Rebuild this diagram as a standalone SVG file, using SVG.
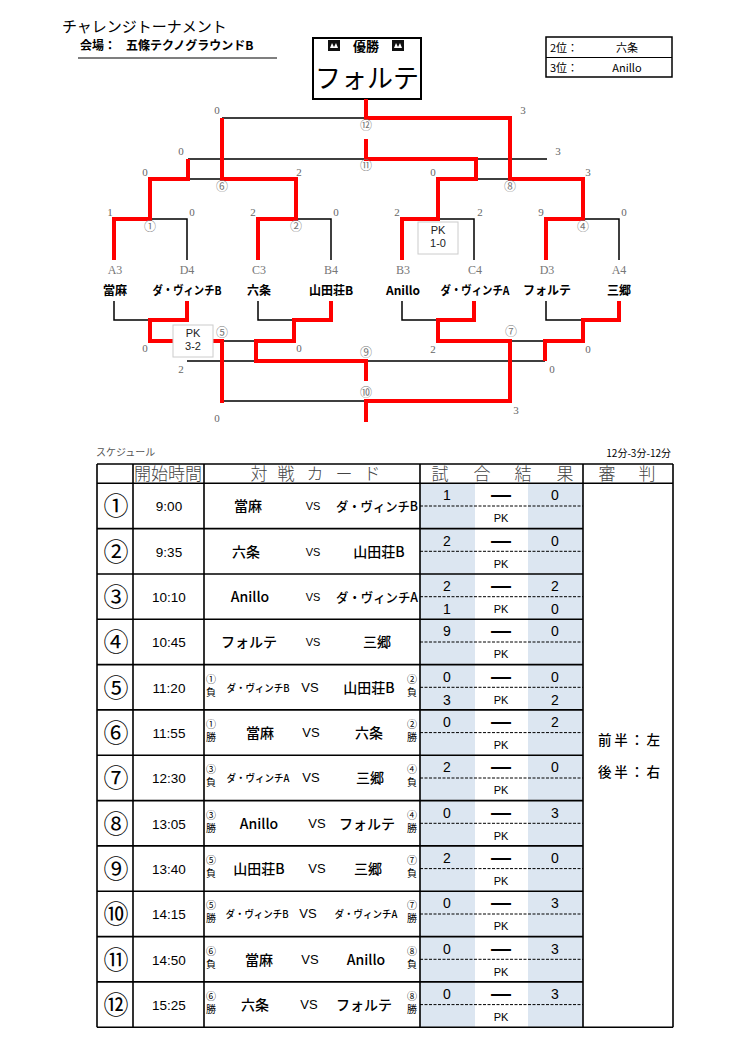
<svg xmlns="http://www.w3.org/2000/svg" width="743" height="1047" viewBox="0 0 743 1047">
<style>
text{font-family:"Noto Sans CJK JP","Liberation Sans",sans-serif}
.k{stroke:#000;stroke-width:1.5;fill:none}
.r{stroke:#ff0000;stroke-width:4;fill:none;stroke-linejoin:miter;stroke-linecap:butt}
.sc{font-family:"Liberation Serif",serif;font-size:11px;fill:#666;text-anchor:middle}
.cm{font-size:12px;fill:#777;text-anchor:middle}
.code{font-family:"Liberation Serif",serif;font-size:12px;fill:#777;text-anchor:middle}
.tn{font-size:12px;font-weight:700;fill:#000;text-anchor:middle}
.pkb{fill:#fff;stroke:#ccc;stroke-width:1}
.pkt{font-family:"Liberation Sans",sans-serif;font-size:11px;fill:#222;text-anchor:middle}
.g{stroke:#000;stroke-width:1.6;fill:none}
.d{stroke:#000;stroke-width:1;stroke-dasharray:3 1.5;fill:none}
.blue{fill:#dce6f1}
.hd{font-size:17px;fill:#444;font-weight:300;text-anchor:middle}
.no{font-size:25px;text-anchor:middle;fill:#000}
.tm{font-family:"Liberation Sans",sans-serif;font-size:13.5px;text-anchor:middle}
.nm{font-size:14px;font-weight:500;text-anchor:middle}
.nml{font-size:13px;font-weight:500;text-anchor:start}
.nms{font-size:10px;font-weight:500;text-anchor:middle}
.vs{font-family:"Liberation Sans",sans-serif;font-size:13px;text-anchor:middle}
.vss{font-family:"Liberation Sans",sans-serif;font-size:11px;text-anchor:middle}
.sm{font-size:10px;text-anchor:middle}
.rs{font-family:"Liberation Sans",sans-serif;font-size:14px;text-anchor:middle}
.ds{font-family:"Liberation Sans",sans-serif;font-size:20px;font-weight:700;text-anchor:middle}
.pk{font-family:"Liberation Sans",sans-serif;font-size:11px;text-anchor:middle}
</style>

<g id="title">
<text x="62" y="32" font-size="15">チャレンジトーナメント</text>
<text x="80" y="50" font-size="12" font-weight="700">会場：</text>
<text x="126" y="50" font-size="12" font-weight="700">五條テクノグラウンドB</text>
<line x1="78" y1="58" x2="277" y2="58" stroke="#000" stroke-width="1.2"/>
</g>

<g id="winner">
<rect x="313" y="38" width="108" height="61" fill="#fff" stroke="#000" stroke-width="2"/>
<rect x="328" y="40" width="12" height="11" fill="#111"/>
<path d="M330,48 L332,43 L334,47 L336,43 L338,48 Z" fill="#fff"/>
<rect x="392" y="40" width="12" height="11" fill="#111"/>
<path d="M394,48 L396,43 L398,47 L400,43 L402,48 Z" fill="#fff"/>
<text x="366" y="51" font-size="13" font-weight="700" text-anchor="middle">優勝</text>
<text x="367" y="88" font-size="26" text-anchor="middle">フォルテ</text>
</g>

<g id="ranks">
<rect x="546" y="37" width="126" height="40" fill="#fff" stroke="#000" stroke-width="1.5"/>
<line x1="546" y1="57.5" x2="672" y2="57.5" stroke="#000" stroke-width="1.2"/>
<text x="550" y="52" font-size="11">2位：</text>
<text x="627" y="52" font-size="11" text-anchor="middle">六条</text>
<text x="550" y="72" font-size="11">3位：</text>
<text x="627" y="72" font-size="11" text-anchor="middle" font-family="Liberation Sans,sans-serif">Anillo</text>
</g>

<g id="connectors">
<path class="k" d="M150,219H187V260M296,219H331V260M438,219H474V260M583,219H619V260M188,179H222M476,179H510M188,159H366M476,159H547M222,118H366"/>
<path class="k" d="M114,301V320H150M258,301V320H294M402,301V320H438M546,301V320H583M222,341H256M510,341H545M187,361H256M366,361H545M222,401H366"/>
<path class="r" d="M114,260V219H150V179H188V159"/>
<path class="r" d="M258,260V219H296V179H222V118"/>
<path class="r" d="M402,260V219H438V179H476V159H366V139"/>
<path class="r" d="M546,260V219H583V179H510V118H366V99"/>
<path class="r" d="M187,301V320H150V341H222V403"/>
<path class="r" d="M331,301V320H294V341H256V361H366V381"/>
<path class="r" d="M474,301V320H438V341H510V401H366V422"/>
<path class="r" d="M619,301V320H583V341H545V361"/>
</g>

<g id="pk-boxes">
<rect class="pkb" x="418" y="222" width="40" height="32"/>
<text class="pkt" x="438" y="234">PK</text>
<text class="pkt" x="438" y="247">1-0</text>
<rect class="pkb" x="173" y="325" width="40" height="32"/>
<text class="pkt" x="193" y="337">PK</text>
<text class="pkt" x="193" y="350">3-2</text>
</g>

<g id="match-marks">
<text class="cm" x="150" y="231">①</text>
<text class="cm" x="296" y="231">②</text>
<text class="cm" x="583" y="231">④</text>
<text class="cm" x="222" y="191">⑥</text>
<text class="cm" x="510" y="191">⑧</text>
<text class="cm" x="366" y="170">⑪</text>
<text class="cm" x="366" y="130">⑫</text>
<text class="cm" x="222" y="337">⑤</text>
<text class="cm" x="511" y="336">⑦</text>
<text class="cm" x="366" y="357">⑨</text>
<text class="cm" x="366" y="397">⑩</text>
</g>

<g id="scores">
<text class="sc" x="217" y="114">0</text>
<text class="sc" x="523" y="114">3</text>
<text class="sc" x="181" y="155">0</text>
<text class="sc" x="558" y="155">3</text>
<text class="sc" x="145" y="176">0</text>
<text class="sc" x="299" y="176">2</text>
<text class="sc" x="433" y="176">0</text>
<text class="sc" x="588" y="176">3</text>
<text class="sc" x="110" y="216">1</text>
<text class="sc" x="192" y="216">0</text>
<text class="sc" x="253" y="216">2</text>
<text class="sc" x="336" y="216">0</text>
<text class="sc" x="397" y="216">2</text>
<text class="sc" x="480" y="216">2</text>
<text class="sc" x="541" y="216">9</text>
<text class="sc" x="624" y="216">0</text>
<text class="sc" x="145" y="352">0</text>
<text class="sc" x="299" y="352">0</text>
<text class="sc" x="433" y="353">2</text>
<text class="sc" x="588" y="353">0</text>
<text class="sc" x="181" y="373">2</text>
<text class="sc" x="552" y="373">0</text>
<text class="sc" x="217" y="422">0</text>
<text class="sc" x="516" y="414">3</text>
</g>

<g id="team-A3"><text class="code" x="115" y="274">A3</text><text class="tn" x="115" y="295">當麻</text></g>
<g id="team-D4"><text class="code" x="187" y="274">D4</text><text class="tn" x="187" y="295" font-size="11" textLength="69" lengthAdjust="spacingAndGlyphs">ダ・ヴィンチB</text></g>
<g id="team-C3"><text class="code" x="259" y="274">C3</text><text class="tn" x="259" y="295">六条</text></g>
<g id="team-B4"><text class="code" x="331" y="274">B4</text><text class="tn" x="331" y="295">山田荘B</text></g>
<g id="team-B3"><text class="code" x="403" y="274">B3</text><text class="tn" x="403" y="295" font-family="Liberation Sans,sans-serif" font-size="13">Anillo</text></g>
<g id="team-C4"><text class="code" x="475" y="274">C4</text><text class="tn" x="475" y="295" font-size="11" textLength="69" lengthAdjust="spacingAndGlyphs">ダ・ヴィンチA</text></g>
<g id="team-D3"><text class="code" x="547" y="274">D3</text><text class="tn" x="547" y="295">フォルテ</text></g>
<g id="team-A4"><text class="code" x="619" y="274">A4</text><text class="tn" x="619" y="295">三郷</text></g>

<g id="schedule-labels">
<text x="96" y="456" font-size="10" fill="#555">スケジュール</text>
<text x="671" y="457" font-size="10" text-anchor="end">12分-3分-12分</text>
</g>

<g id="table-grid">
<rect class="blue" x="420" y="483.3" width="55" height="543.9"/>
<rect class="blue" x="528" y="483.3" width="55" height="543.9"/>
<path class="g" d="M97,464V1027.2M133,464V1027.2M204,464V1027.2M420,464V1027.2M583,464V1027.2M673,464V1027.2M97,464H673M97,483.3H673M97,1027.2H673"/>
<path class="g" d="M97,528.6H583M97,574H583M97,619.3H583M97,664.6H583M97,709.9H583M97,755.3H583M97,800.6H583M97,845.9H583M97,891.3H583M97,936.6H583M97,981.9H583"/>
<path class="d" d="M420,506H583M420,551.3H583M420,596.7H583M420,642H583M420,687.3H583M420,732.6H583M420,778H583M420,823.3H583M420,868.6H583M420,914H583M420,959.3H583M420,1004.6H583"/>
</g>

<g id="table-header">
<text class="hd" x="168" y="480" textLength="68" lengthAdjust="spacingAndGlyphs">開始時間</text>
<text class="hd" x="259" y="480">対</text>
<text class="hd" x="286" y="480">戦</text>
<text class="hd" x="315" y="480">カ</text>
<text class="hd" x="344" y="480">ー</text>
<text class="hd" x="372" y="480">ド</text>
<text class="hd" x="440" y="480">試</text>
<text class="hd" x="482" y="480">合</text>
<text class="hd" x="523" y="480">結</text>
<text class="hd" x="565" y="480">果</text>
<text class="hd" x="607" y="480">審</text>
<text class="hd" x="647" y="480">判</text>
</g>

<g id="row1" transform="translate(0,483.3)">
<text class="no" x="116" y="32">①</text><text class="tm" x="169" y="28">9:00</text>
<text class="nm" x="248" y="28">當麻</text><text class="vss" x="313" y="27">VS</text><text class="nml" x="336" y="28" textLength="82" lengthAdjust="spacingAndGlyphs">ダ・ヴィンチB</text>
<text class="rs" x="447" y="17">1</text><text class="ds" x="501" y="18">—</text><text class="rs" x="555" y="17">0</text>
<text class="pk" x="501" y="39">PK</text>
</g>
<g id="row2" transform="translate(0,528.6)">
<text class="no" x="116" y="32">②</text><text class="tm" x="169" y="28">9:35</text>
<text class="nm" x="246" y="28">六条</text><text class="vss" x="313" y="27">VS</text><text class="nm" x="379" y="28">山田荘B</text>
<text class="rs" x="447" y="17">2</text><text class="ds" x="501" y="18">—</text><text class="rs" x="555" y="17">0</text>
<text class="pk" x="501" y="39">PK</text>
</g>
<g id="row3" transform="translate(0,574)">
<text class="no" x="116" y="32">③</text><text class="tm" x="169" y="28">10:10</text>
<text class="nm" x="250" y="28" font-family="Liberation Sans,sans-serif">Anillo</text><text class="vss" x="313" y="27">VS</text><text class="nml" x="336" y="28" textLength="82" lengthAdjust="spacingAndGlyphs">ダ・ヴィンチA</text>
<text class="rs" x="447" y="17">2</text><text class="ds" x="501" y="18">—</text><text class="rs" x="555" y="17">2</text>
<text class="rs" x="447" y="40">1</text><text class="pk" x="501" y="39">PK</text><text class="rs" x="555" y="40">0</text>
</g>
<g id="row4" transform="translate(0,619.3)">
<text class="no" x="116" y="32">④</text><text class="tm" x="169" y="28">10:45</text>
<text class="nm" x="249" y="28">フォルテ</text><text class="vss" x="313" y="27">VS</text><text class="nm" x="377" y="28">三郷</text>
<text class="rs" x="447" y="17">9</text><text class="ds" x="501" y="18">—</text><text class="rs" x="555" y="17">0</text>
<text class="pk" x="501" y="39">PK</text>
</g>
<g id="row5" transform="translate(0,664.6)">
<text class="no" x="116" y="32">⑤</text><text class="tm" x="169" y="28">11:20</text>
<text class="sm" x="211" y="18">①</text><text class="sm" x="211" y="31">負</text>
<text class="nms" x="258" y="27" textLength="63" lengthAdjust="spacingAndGlyphs">ダ・ヴィンチB</text><text class="vs" x="310" y="27">VS</text><text class="nm" x="369" y="28">山田荘B</text>
<text class="sm" x="412" y="18">②</text><text class="sm" x="412" y="31">負</text>
<text class="rs" x="447" y="17">0</text><text class="ds" x="501" y="18">—</text><text class="rs" x="555" y="17">0</text>
<text class="rs" x="447" y="40">3</text><text class="pk" x="501" y="39">PK</text><text class="rs" x="555" y="40">2</text>
</g>
<g id="row6" transform="translate(0,709.9)">
<text class="no" x="116" y="32">⑥</text><text class="tm" x="169" y="28">11:55</text>
<text class="sm" x="211" y="18">①</text><text class="sm" x="211" y="31">勝</text>
<text class="nm" x="260" y="28">當麻</text><text class="vs" x="311" y="27">VS</text><text class="nm" x="369" y="28">六条</text>
<text class="sm" x="412" y="18">②</text><text class="sm" x="412" y="31">勝</text>
<text class="rs" x="447" y="17">0</text><text class="ds" x="501" y="18">—</text><text class="rs" x="555" y="17">2</text>
<text class="pk" x="501" y="39">PK</text>
</g>
<g id="row7" transform="translate(0,755.3)">
<text class="no" x="116" y="32">⑦</text><text class="tm" x="169" y="28">12:30</text>
<text class="sm" x="211" y="18">③</text><text class="sm" x="211" y="31">負</text>
<text class="nms" x="258" y="27" textLength="63" lengthAdjust="spacingAndGlyphs">ダ・ヴィンチA</text><text class="vs" x="311" y="27">VS</text><text class="nm" x="370" y="28">三郷</text>
<text class="sm" x="412" y="18">④</text><text class="sm" x="412" y="31">負</text>
<text class="rs" x="447" y="17">2</text><text class="ds" x="501" y="18">—</text><text class="rs" x="555" y="17">0</text>
<text class="pk" x="501" y="39">PK</text>
</g>
<g id="row8" transform="translate(0,800.6)">
<text class="no" x="116" y="32">⑧</text><text class="tm" x="169" y="28">13:05</text>
<text class="sm" x="211" y="18">③</text><text class="sm" x="211" y="31">勝</text>
<text class="nm" x="259" y="28" font-family="Liberation Sans,sans-serif">Anillo</text><text class="vs" x="317" y="27">VS</text><text class="nm" x="367" y="28">フォルテ</text>
<text class="sm" x="412" y="18">④</text><text class="sm" x="412" y="31">勝</text>
<text class="rs" x="447" y="17">0</text><text class="ds" x="501" y="18">—</text><text class="rs" x="555" y="17">3</text>
<text class="pk" x="501" y="39">PK</text>
</g>
<g id="row9" transform="translate(0,845.9)">
<text class="no" x="116" y="32">⑨</text><text class="tm" x="169" y="28">13:40</text>
<text class="sm" x="211" y="18">⑤</text><text class="sm" x="211" y="31">負</text>
<text class="nm" x="259" y="28">山田荘B</text><text class="vs" x="317" y="27">VS</text><text class="nm" x="368" y="28">三郷</text>
<text class="sm" x="412" y="18">⑦</text><text class="sm" x="412" y="31">負</text>
<text class="rs" x="447" y="17">2</text><text class="ds" x="501" y="18">—</text><text class="rs" x="555" y="17">0</text>
<text class="pk" x="501" y="39">PK</text>
</g>
<g id="row10" transform="translate(0,891.3)">
<text class="no" x="116" y="32">⑩</text><text class="tm" x="169" y="28">14:15</text>
<text class="sm" x="211" y="18">⑤</text><text class="sm" x="211" y="31">勝</text>
<text class="nms" x="257" y="27" textLength="63" lengthAdjust="spacingAndGlyphs">ダ・ヴィンチB</text><text class="vs" x="308" y="27">VS</text><text class="nms" x="366" y="27" textLength="63" lengthAdjust="spacingAndGlyphs">ダ・ヴィンチA</text>
<text class="sm" x="412" y="18">⑦</text><text class="sm" x="412" y="31">勝</text>
<text class="rs" x="447" y="17">0</text><text class="ds" x="501" y="18">—</text><text class="rs" x="555" y="17">3</text>
<text class="pk" x="501" y="39">PK</text>
</g>
<g id="row11" transform="translate(0,936.6)">
<text class="no" x="116" y="32">⑪</text><text class="tm" x="169" y="28">14:50</text>
<text class="sm" x="211" y="18">⑥</text><text class="sm" x="211" y="31">負</text>
<text class="nm" x="259" y="28">當麻</text><text class="vs" x="310" y="27">VS</text><text class="nm" x="366" y="28" font-family="Liberation Sans,sans-serif">Anillo</text>
<text class="sm" x="412" y="18">⑧</text><text class="sm" x="412" y="31">負</text>
<text class="rs" x="447" y="17">0</text><text class="ds" x="501" y="18">—</text><text class="rs" x="555" y="17">3</text>
<text class="pk" x="501" y="39">PK</text>
</g>
<g id="row12" transform="translate(0,981.9)">
<text class="no" x="116" y="32">⑫</text><text class="tm" x="169" y="28">15:25</text>
<text class="sm" x="211" y="18">⑥</text><text class="sm" x="211" y="31">勝</text>
<text class="nm" x="255" y="28">六条</text><text class="vs" x="309" y="27">VS</text><text class="nm" x="364" y="28">フォルテ</text>
<text class="sm" x="412" y="18">⑧</text><text class="sm" x="412" y="31">勝</text>
<text class="rs" x="447" y="17">0</text><text class="ds" x="501" y="18">—</text><text class="rs" x="555" y="17">3</text>
<text class="pk" x="501" y="39">PK</text>
</g>

<g id="referee">
<text x="598" y="745" font-size="13.5" font-weight="500" textLength="62" lengthAdjust="spacing">前半：左</text>
<text x="598" y="777" font-size="13.5" font-weight="500" textLength="62" lengthAdjust="spacing">後半：右</text>
</g>
</svg>
